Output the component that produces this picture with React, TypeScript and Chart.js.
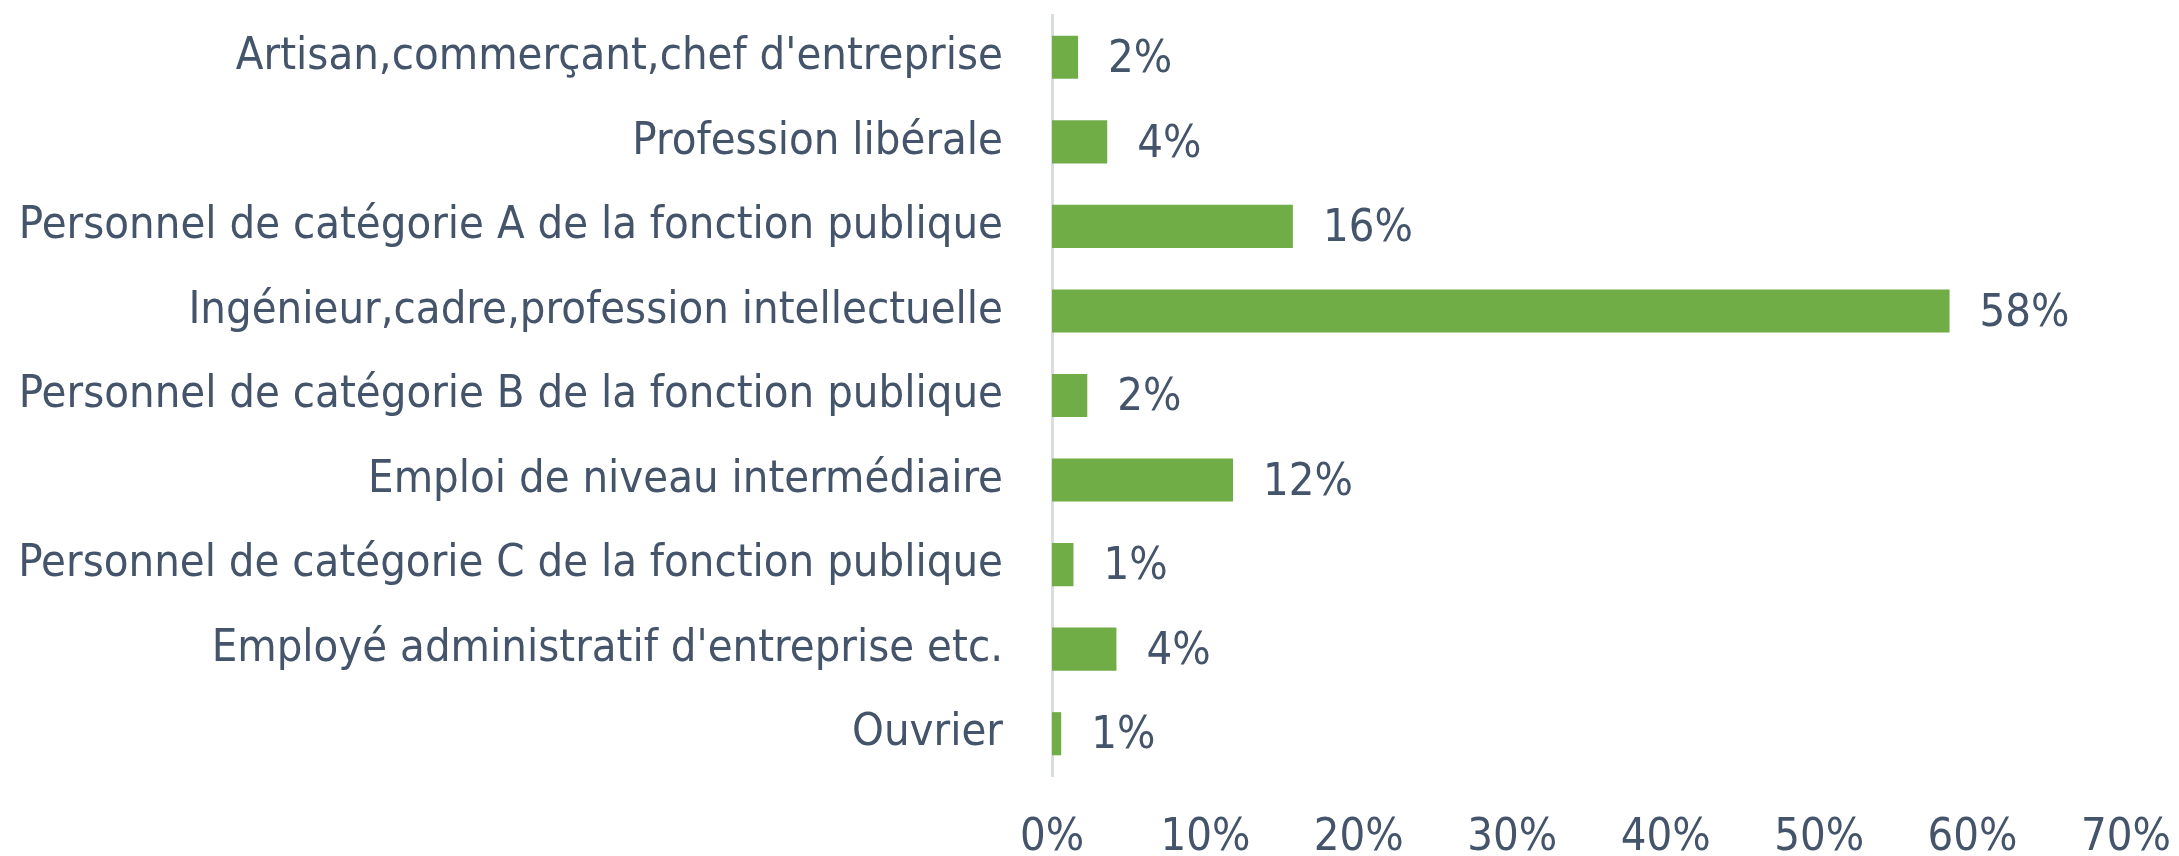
import React, { useEffect, useRef } from "react";
import { Chart, registerables } from "chart.js";

Chart.register(...registerables);

const categories: string[] = [
  "Artisan,commerçant,chef d'entreprise",
  "Profession libérale",
  "Personnel de catégorie A de la fonction publique",
  "Ingénieur,cadre,profession intellectuelle",
  "Personnel de catégorie B de la fonction publique",
  "Emploi de niveau intermédiaire",
  "Personnel de catégorie C de la fonction publique",
  "Employé administratif d'entreprise etc.",
  "Ouvrier",
];

const values: number[] = [1.7, 3.6, 15.7, 58.5, 2.3, 11.8, 1.4, 4.2, 0.6];

const valueLabels: string[] = ["2%", "4%", "16%", "58%", "2%", "12%", "1%", "4%", "1%"];

const xTickValues: number[] = [0, 10, 20, 30, 40, 50, 60, 70];

const FONT_FAMILY = "'Liberation Sans Narrow', 'DejaVu Sans Condensed', 'Liberation Sans', sans-serif";
const TEXT_COLOR = "#44546A";
const FONT_SIZE = 45;

const valueLabelPlugin = {
  id: "valueLabels",
  afterDatasetsDraw(chart: any) {
    const ctx = chart.ctx;
    const meta = chart.getDatasetMeta(0);
    ctx.save();
    ctx.font = `${FONT_SIZE}px ${FONT_FAMILY}`;
    ctx.fillStyle = TEXT_COLOR;
    ctx.textAlign = "left";
    ctx.textBaseline = "middle";
    meta.data.forEach((bar: any, i: number) => {
      ctx.fillText(valueLabels[i], bar.x + 30, bar.y + 3);
    });
    ctx.restore();
  },
};

export default function App() {
  const canvasRef = useRef<HTMLCanvasElement | null>(null);

  useEffect(() => {
    document.body.style.margin = "0";
    document.body.style.overflow = "hidden";
    const canvas = canvasRef.current;
    if (!canvas) return;
    const chart = new Chart(canvas, {
      type: "bar",
      data: {
        labels: categories,
        datasets: [
          {
            data: values,
            backgroundColor: "#70AD47",
            borderWidth: 0,
            barPercentage: 0.51,
            categoryPercentage: 1,
          },
        ],
      },
      options: {
        indexAxis: "y",
        responsive: false,
        animation: false,
        devicePixelRatio: 1,
        layout: { padding: { top: 15, right: 53, left: 0, bottom: 0 } },
        plugins: {
          legend: { display: false },
          tooltip: { enabled: false },
        },
        scales: {
          x: {
            min: 0,
            max: 70,
            afterBuildTicks: (scale: any) => {
              scale.ticks = xTickValues.map((v) => ({ value: v }));
            },
            afterFit: (scale: any) => {
              scale.height = 80;
              scale.paddingLeft = 0;
              scale.paddingRight = 0;
            },
            ticks: {
              callback: (v: any) => `${v}%`,
              color: TEXT_COLOR,
              font: { family: FONT_FAMILY, size: FONT_SIZE },
              padding: 35,
              maxRotation: 0,
            },
            grid: { display: false, drawTicks: false },
            border: { display: false },
          },
          y: {
            afterFit: (scale: any) => {
              scale.width = 1052;
              scale.paddingTop = 0;
              scale.paddingBottom = 0;
            },
            ticks: {
              color: TEXT_COLOR,
              font: { family: FONT_FAMILY, size: FONT_SIZE },
              padding: 49,
            },
            grid: { display: false, drawTicks: false },
            border: { display: true, color: "#D9DCE3", width: 3 },
          },
        },
      },
      plugins: [valueLabelPlugin],
    });
    return () => chart.destroy();
  }, []);

  return (
    <div style={{ width: 2179, height: 856, overflow: "hidden", background: "#fff" }}>
      <canvas ref={canvasRef} width={2179} height={856} style={{ display: "block" }} />
    </div>
  );
}
